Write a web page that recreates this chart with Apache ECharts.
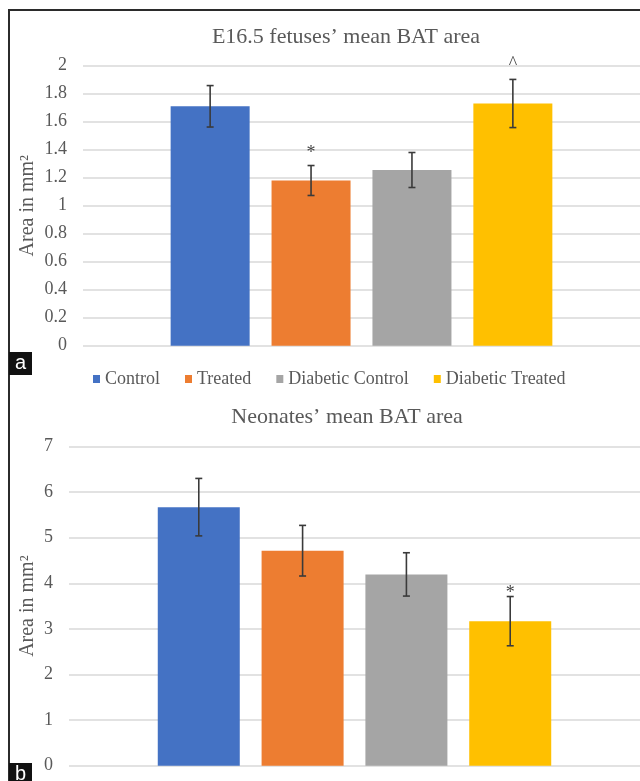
<!DOCTYPE html>
<html>
<head>
<meta charset="utf-8">
<script src="https://cdn.jsdelivr.net/npm/echarts@6/dist/echarts.min.js"></script>
<style>
html,body{margin:0;padding:0;background:#fff;}
#chart{width:640px;height:781px;}
</style>
</head>
<body>
<div id="chart"></div>
<script>
// ---- data ----
const groups = ['Control', 'Treated', 'Diabetic Control', 'Diabetic Treated'];
const colors = ['#4472C4', '#ED7D31', '#A5A5A5', '#FFC000'];

const titleA = 'E16.5 fetuses’ mean BAT area';
const meansA = [1.71, 1.18, 1.255, 1.73];
const errA = [0.148, 0.107, 0.125, 0.172];
const sigA = ['', '*', '', '^'];

const titleB = 'Neonates’ mean BAT area';
const meansB = [5.67, 4.715, 4.195, 3.17];
const errB = [0.63, 0.555, 0.475, 0.54];
const sigB = ['', '', '', '*'];

const yTicksA = {min: 0, max: 2, interval: 0.2};
const yTicksB = {min: 0, max: 7, interval: 1};
const yName = 'Area in mm²';

// ---- styles ----
const serif = '"Liberation Serif", "Times New Roman", serif';
const txt = '#595959';

const chart = echarts.init(document.getElementById('chart'), null, {renderer: 'canvas'});

function barSeries(means, gridIdx, width) {
  return groups.map((g, i) => ({
    name: g,
    type: 'bar',
    xAxisIndex: gridIdx,
    yAxisIndex: gridIdx,
    barWidth: width,
    barGap: '-100%',
    itemStyle: {color: colors[i]},
    data: [[i, means[i]]],
    z: 2
  }));
}

function errSeries(means, errs, sigs, gridIdx, sigOffset) {
  return {
    type: 'custom',
    xAxisIndex: gridIdx,
    yAxisIndex: gridIdx,
    z: 5,
    silent: true,
    data: means.map((m, i) => [i, m, errs[i]]),
    renderItem: function (params, api) {
      const x = api.value(0), m = api.value(1), e = api.value(2);
      const top = api.coord([x, m + e]);
      const bot = api.coord([x, m - e]);
      const cap = 3.5;
      const st = {stroke: '#3a3a3a', lineWidth: 1.6};
      const children = [
        {type: 'line', shape: {x1: top[0], y1: top[1], x2: bot[0], y2: bot[1]}, style: st},
        {type: 'line', shape: {x1: top[0] - cap, y1: top[1], x2: top[0] + cap, y2: top[1]}, style: st},
        {type: 'line', shape: {x1: bot[0] - cap, y1: bot[1], x2: bot[0] + cap, y2: bot[1]}, style: st}
      ];
      const s = sigs[params.dataIndex];
      if (s) {
        const extra = s === '^' ? 3 : 0;
        children.push({
          type: 'text',
          style: {
            text: s, x: top[0], y: top[1] - sigOffset - extra,
            align: 'center', verticalAlign: 'middle',
            fill: '#444', font: '18px ' + serif
          }
        });
      }
      return {type: 'group', children: children};
    }
  };
}

function yAxis(gridIdx, ticks, nameGap) {
  return {
    type: 'value',
    gridIndex: gridIdx,
    min: ticks.min, max: ticks.max, interval: ticks.interval,
    name: yName,
    nameLocation: 'middle',
    nameRotate: 90,
    nameGap: nameGap,
    nameMoveOverlap: false,
    nameTextStyle: {fontFamily: serif, fontSize: 20, color: txt},
    axisLine: {show: false},
    axisTick: {show: false},
    axisLabel: {fontFamily: serif, fontSize: 18, color: txt, margin: 16},
    splitLine: {lineStyle: {color: '#d9d9d9', width: 1.5}}
  };
}

function xAxis(gridIdx, half) {
  return {
    type: 'value', gridIndex: gridIdx,
    min: 1.5 - half, max: 1.5 + half,
    show: false
  };
}

const option = {
  animation: false,
  backgroundColor: '#ffffff',
  title: [
    {text: titleA, left: 341, top: 21, textAlign: 'center',
     textStyle: {fontFamily: serif, fontSize: 22, fontWeight: 'normal', color: txt}},
    {text: titleB, left: 342, top: 401, textAlign: 'center',
     textStyle: {fontFamily: serif, fontSize: 22, fontWeight: 'normal', color: txt}}
  ],
  legend: {
    data: groups,
    left: 88, top: 365,
    icon: 'rect', itemWidth: 7, itemHeight: 8, itemGap: 25,
    textStyle: {fontFamily: serif, fontSize: 18, color: txt},
    selectedMode: false
  },
  grid: [
    {left: 83, right: 0, top: 65.7, height: 280},
    {left: 69, right: 0, top: 446.5, height: 319.2}
  ],
  xAxis: [xAxis(0, 2.76), xAxis(1, 2.75)],
  yAxis: [yAxis(0, yTicksA, 45), yAxis(1, yTicksB, 31)],
  series: [
    ...barSeries(meansA, 0, 79),
    errSeries(meansA, errA, sigA, 0, 12),
    ...barSeries(meansB, 1, 82),
    errSeries(meansB, errB, sigB, 1, 3)
  ],
  graphic: [
    {type: 'polyline', shape: {points: [[9, 781], [9, 10], [640, 10]]},
     style: {stroke: '#2b2b2b', lineWidth: 2, fill: null}, z: 100},
    {type: 'rect', shape: {x: 9, y: 352, width: 23, height: 23}, style: {fill: '#111'}, z: 100},
    {type: 'text', x: 20.5, y: 363.5, style: {text: 'a', fill: '#fff', font: '20px "Liberation Sans", Arial, sans-serif', align: 'center', verticalAlign: 'middle'}, z: 101},
    {type: 'rect', shape: {x: 9, y: 763, width: 23, height: 20}, style: {fill: '#111'}, z: 100},
    {type: 'text', x: 20.5, y: 774, style: {text: 'b', fill: '#fff', font: '20px "Liberation Sans", Arial, sans-serif', align: 'center', verticalAlign: 'middle'}, z: 101}
  ]
};

chart.setOption(option);
</script>
</body>
</html>
